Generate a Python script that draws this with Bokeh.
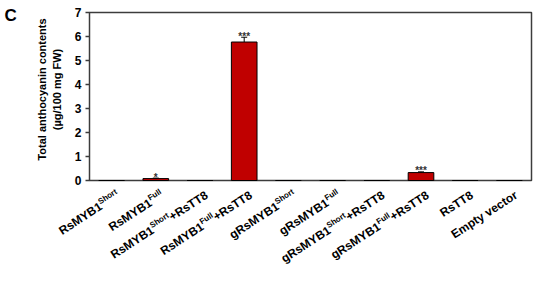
import math
from bokeh.plotting import figure
from bokeh.models import ColumnDataSource, Range1d, Whisker, TeeHead, Label
from bokeh.core.properties import value
from bokeh.embed import file_html
from bokeh.resources import INLINE

# ---- data ----
categories = ["RsMYB1Short", "RsMYB1Full", "RsMYB1Short+RsTT8", "RsMYB1Full+RsTT8",
              "gRsMYB1Short", "gRsMYB1Full", "gRsMYB1Short+RsTT8", "gRsMYB1Full+RsTT8",
              "RsTT8", "Empty vector"]
label_main = ["RsMYB1", "RsMYB1", "RsMYB1", "RsMYB1", "gRsMYB1", "gRsMYB1",
              "gRsMYB1", "gRsMYB1", "RsTT8", "Empty vector"]
label_sup = ["Short", "Full", "Short", "Full", "Short", "Full", "Short", "Full", "", ""]
label_tail = ["", "", "+RsTT8", "+RsTT8", "", "", "+RsTT8", "+RsTT8", "", ""]
values = [0.0, 0.08, 0.0, 5.77, 0.0, 0.0, 0.0, 0.33, 0.0, 0.0]
errors = [0.0, 0.02, 0.0, 0.20, 0.0, 0.0, 0.0, 0.03, 0.0, 0.0]
stars = ["", "*", "", "***", "", "", "", "***", "", ""]
y_ticks = [0, 1, 2, 3, 4, 5, 6, 7]
y_tick_labels = ["0", "1", "2", "3", "4", "5", "6", "7"]
y_label_lines = ["Total anthocyanin contents", "(\u00b5g/100 mg FW)"]
panel_letter = "C"

FONT = "Liberation Sans"
AXIS_COL = "#3c3c3c"

# ---- layout (pixels) ----
W_PX, H_PX = 534, 266
BOX_L, BOX_R, BOX_T, BOX_B = 89, 531, 12, 180
Y_MAX = 7
n = len(categories)
PX_X = (BOX_R - BOX_L) / n
PX_Y = (BOX_B - BOX_T) / Y_MAX

x_range = Range1d(-BOX_L / PX_X, n + (W_PX - BOX_R) / PX_X)
y_range = Range1d(-(H_PX - BOX_B) / PX_Y, Y_MAX + BOX_T / PX_Y)

p = figure(x_range=x_range, y_range=y_range, frame_width=W_PX, frame_height=H_PX,
           min_border=0, output_backend="svg", toolbar_location=None, tools="")
# isotropic pixel space for the free texts
p.extra_x_ranges = {"px": Range1d(0, W_PX)}
p.extra_y_ranges = {"px": Range1d(0, H_PX)}
p.axis.visible = False
p.grid.visible = False
p.outline_line_color = None
p.background_fill_color = "white"
p.border_fill_color = "white"

xs = [i + 0.5 for i in range(n)]
tops = [v + e for v, e in zip(values, errors)]
lows = [v - e for v, e in zip(values, errors)]
src = ColumnDataSource(dict(x=xs, top=values, up=tops, lo=lows, star=stars))

# plot box
p.quad(left=[0], right=[n], bottom=[0], top=[Y_MAX], fill_color=None,
       line_color=AXIS_COL, line_width=1.5)

# bars
p.vbar(x="x", top="top", width=0.58, source=src, fill_color="#C00000",
       line_color="black", line_width=1)

wh = Whisker(base="x", upper="up", lower="lo", source=src,
             upper_head=TeeHead(size=6, line_color="black", line_width=1),
             lower_head=None, line_color="black", line_width=1)
p.add_layout(wh)

# significance stars
p.text(x="x", y="up", text="star", source=src, text_align="center",
       text_baseline="alphabetic", text_font=value(FONT), text_font_size="10px",
       text_font_style="bold", text_color="#333333", y_offset=-1)

# y ticks and labels
TICK = 4 / PX_X
p.segment(x0=[-TICK] * len(y_ticks), x1=[0] * len(y_ticks), y0=y_ticks, y1=y_ticks,
          line_color=AXIS_COL, line_width=1.5)
p.text(x=[0] * len(y_ticks), y=y_ticks, text=y_tick_labels, x_offset=-8,
       text_align="right", text_baseline="middle", text_font=value(FONT),
       text_font_size="12px", text_font_style="bold", text_color="black")


def up(y_down):
    return H_PX - y_down


# y axis title (two lines, rotated)
p.text(x=[41, 56], y=[up(89), up(89)], text=y_label_lines,
       x_range_name="px", y_range_name="px",
       angle=math.pi / 2, text_align="center", text_baseline="middle",
       text_font=value(FONT), text_font_size="11px", text_font_style="bold",
       text_color="black")

# panel letter
p.text(x=[4], y=[up(5)], text=[panel_letter], x_range_name="px", y_range_name="px",
       text_align="left", text_baseline="top", text_font=value(FONT),
       text_font_size="17px", text_font_style="bold", text_color="black")

# rotated category labels with superscripts (screen-space angle via Label)
WID = {'R': 722, 's': 556, 'M': 833, 'Y': 667, 'B': 722, '1': 556, 'S': 667, 'h': 611,
       'o': 611, 'r': 389, 't': 333, 'F': 611, 'u': 611, 'l': 278, '+': 584, 'T': 611,
       '8': 556, 'g': 611, 'E': 667, 'm': 889, 'p': 611, 'y': 556, ' ': 278, 'v': 556,
       'e': 556, 'c': 556}


def tw(s, size):
    return sum(WID.get(ch, 556) for ch in s) / 1000.0 * size


theta = math.radians(33)
ct, st = math.cos(theta), math.sin(theta)
NSIZE, SSIZE, RAISE, MID = 12, 8, 5.0, 0.35
DX0, DY0 = 9.0, 17.0

for i in range(n):
    cx = BOX_L + xs[i] * PX_X
    pieces = [("main", label_main[i]), ("sup", label_sup[i]), ("tail", label_tail[i])]
    d = 0.0
    for key, txt in reversed(pieces):
        if not txt:
            continue
        size = SSIZE if key == "sup" else NSIZE
        w = tw(txt, size)
        a = d + w / 2
        hh = (RAISE if key == "sup" else 0.0) + MID * size
        sx = DX0 - a * ct - hh * st
        sy = DY0 + a * st - hh * ct
        p.add_layout(Label(x=cx + sx, y=up(BOX_B + sy), x_units="data", y_units="data",
                           x_range_name="px", y_range_name="px",
                           text=txt, angle=theta, text_align="center",
                           text_baseline="middle", text_font=FONT,
                           text_font_style="bold", text_font_size=f"{size}px",
                           text_color="black"))
        d += w

open("out.html", "w").write(file_html(p, INLINE))
